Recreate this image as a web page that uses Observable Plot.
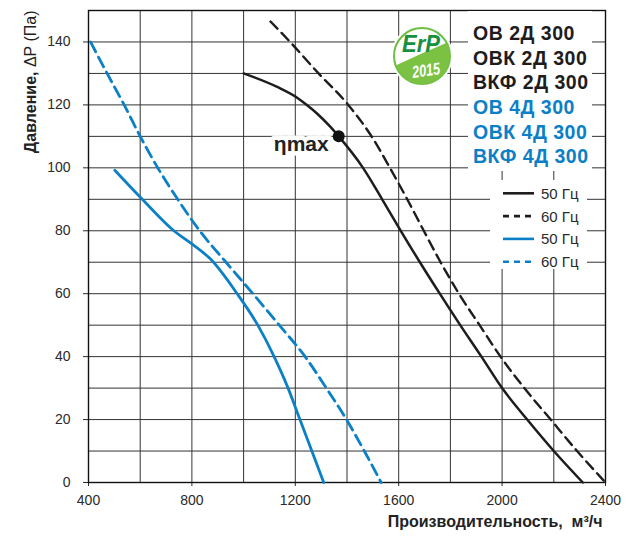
<!DOCTYPE html>
<html>
<head>
<meta charset="utf-8">
<script src="https://cdn.jsdelivr.net/npm/d3@7"></script>
<script src="https://cdn.jsdelivr.net/npm/@observablehq/plot@0.6"></script>
<style>
  html, body { margin: 0; padding: 0; background: #fff; }
  #chart { width: 633px; height: 543px; }
</style>
</head>
<body>
<div id="chart"></div>
<script>
// ---- data ----
const black50X = [1000, 1130, 1207, 1246, 1285, 1336, 1368, 1462, 1536, 1608, 1682, 1759, 1838, 1920, 2000, 2097, 2200, 2312];
const black50Y = [130, 125.7, 122.3, 119.9, 117.2, 113, 110, 100, 90, 80, 70, 60, 50, 40, 30, 20, 10, 0];
const black60X = [1104, 1180, 1290, 1405, 1495, 1566, 1633, 1697, 1762, 1833, 1913, 1994, 2086, 2188, 2290, 2400];
const black60Y = [146.5, 140, 130, 120, 110, 100, 90, 80, 70, 60, 50, 40, 30, 20, 10, 0];
const blue50X = [502, 608, 730, 800, 872, 975, 1055, 1118, 1172, 1218, 1264, 1310];
const blue50Y = [99.2, 90, 80, 75.8, 71, 60, 50, 40, 30, 20, 10, 0];
const blue60X = [408, 472, 538, 600, 668, 745, 830, 932, 1036, 1138, 1238, 1320, 1398, 1467, 1532];
const blue60Y = [140, 130, 120, 110, 100, 90, 80, 70, 60, 50, 40, 30, 20, 10, 0];
const etaMaxX = [1368];
const etaMaxY = [110];

const xTicks = [400, 800, 1200, 1600, 2000, 2400];
const yTicks = [0, 20, 40, 60, 80, 100, 120, 140];
const gridX = [400, 600, 800, 1000, 1200, 1400, 1600, 1800, 2000, 2200, 2400];
const gridY = [0, 10, 20, 30, 40, 50, 60, 70, 80, 90, 100, 110, 120, 130, 140, 150];

const modelLabels = ["ОВ 2Д 300", "ОВК 2Д 300", "ВКФ 2Д 300", "ОВ 4Д 300", "ОВК 4Д 300", "ВКФ 4Д 300"];
const freqLabels = ["50 Гц", "60 Гц", "50 Гц", "60 Гц"];
const xLabel = "Производительность,\u00a0\u00a0м³/ч";
const yLabelBold = "Давление, ";
const yLabelRest = "ΔP (Па)";
const etaLabel = "ηmax";

const BLACK = "#1e1c1d";
const BLUE = "#0b80c6";
const modelColors = [BLACK, BLACK, BLACK, BLUE, BLUE, BLUE];
const freqColors = [BLACK, BLACK, BLUE, BLUE];
const freqDash = [null, "6,5", null, "6,5"];

const toRows = (xs, ys) => xs.map((x, i) => ({x, y: ys[i]}));
const black50 = toRows(black50X, black50Y);
const black60 = toRows(black60X, black60Y);
const blue50 = toRows(blue50X, blue50Y);
const blue60 = toRows(blue60X, blue60Y);
const etaMax = toRows(etaMaxX, etaMaxY);

const FONT = "'Liberation Sans', Arial, Helvetica, sans-serif";

const chart = Plot.plot({
  width: 633,
  height: 543,
  marginLeft: 88,
  marginRight: 28,
  marginTop: 10,
  marginBottom: 61,
  style: {fontFamily: FONT, fontSize: "14px", color: "#2a2a2a", background: "white", overflow: "visible"},
  x: {domain: [400, 2400], ticks: xTicks, tickSize: 4, tickPadding: 9, label: null, tickFormat: d => String(d)},
  y: {domain: [0, 150], ticks: yTicks, tickSize: 5, tickPadding: 13, label: null},
  marks: [
    Plot.ruleX(gridX, {stroke: "#333", strokeWidth: 1}),
    Plot.ruleY(gridY, {stroke: "#333", strokeWidth: 1}),
    Plot.frame({stroke: "#111", strokeWidth: 1.4}),
    Plot.line(blue60, {x: "x", y: "y", stroke: BLUE, strokeWidth: 2.8, strokeDasharray: "11,6", curve: "monotone-x"}),
    Plot.line(blue50, {x: "x", y: "y", stroke: BLUE, strokeWidth: 2.8, curve: "monotone-x"}),
    Plot.line(black60, {x: "x", y: "y", stroke: BLACK, strokeWidth: 2.4, strokeDasharray: "10,6", curve: "monotone-x"}),
    Plot.line(black50, {x: "x", y: "y", stroke: BLACK, strokeWidth: 2.5, curve: "monotone-x"}),
    Plot.text(etaMax, {x: "x", y: "y", text: () => etaLabel, dx: -10, dy: 8, textAnchor: "end", fontWeight: "bold", fontSize: 21, fill: "#222", stroke: "white", strokeWidth: 9, strokeLinejoin: "round", paintOrder: "stroke"}),
    Plot.dot(etaMax, {x: "x", y: "y", r: 6, fill: "#111"}),
    Plot.text([xLabel], {frameAnchor: "bottom-right", dx: -3, dy: 44.5, textAnchor: "end", fontWeight: "bold", fontSize: 16, fill: "#222"}),
    Plot.text([yLabelBold + yLabelRest], {frameAnchor: "top-left", dx: -64, dy: 0, rotate: -90, textAnchor: "end", fontWeight: "bold", fontSize: 16, fill: "#222"})
  ]
});

document.getElementById("chart").appendChild(chart);

// split y label into bold + regular parts
chart.querySelectorAll("text").forEach(t => {
  if (t.textContent === yLabelBold + yLabelRest) {
    t.textContent = "";
    const a = document.createElementNS("http://www.w3.org/2000/svg", "tspan");
    a.textContent = yLabelBold; a.setAttribute("font-weight", "bold");
    const b = document.createElementNS("http://www.w3.org/2000/svg", "tspan");
    b.textContent = yLabelRest; b.setAttribute("font-weight", "normal");
    t.appendChild(a); t.appendChild(b);
  }
});

// ---- legend and logo overlay ----
const svg = d3.select(chart);
const g = svg.append("g").attr("font-family", FONT).attr("text-anchor", "start");

// white boxes behind legend
g.append("rect").attr("x", 468).attr("y", 11).attr("width", 124).attr("height", 160).attr("fill", "white");
g.append("rect").attr("x", 490).attr("y", 180).attr("width", 97).attr("height", 89).attr("fill", "white");

modelLabels.forEach((label, i) => {
  g.append("text")
    .attr("x", 473).attr("y", 40 + i * 24.65)
    .attr("text-anchor", "start")
    .attr("font-size", 19.5).attr("font-weight", "bold")
    .attr("letter-spacing", 0.5)
    .attr("fill", modelColors[i])
    .text(label);
});

freqLabels.forEach((label, i) => {
  const y = 193.3 + i * 22.8;
  const ln = g.append("line")
    .attr("x1", 503).attr("x2", 534).attr("y1", y).attr("y2", y)
    .attr("stroke", freqColors[i]).attr("stroke-width", 2.6);
  if (freqDash[i]) ln.attr("stroke-dasharray", freqDash[i]);
  g.append("text")
    .attr("x", 541).attr("y", y).attr("dy", "0.36em")
    .attr("text-anchor", "start")
    .attr("font-size", 15).attr("fill", "#2a2a2a")
    .text(label);
});

// ErP 2015 logo
const cx = 422, cy = 56, r = 28;
g.append("circle").attr("cx", cx).attr("cy", cy).attr("r", r + 3).attr("fill", "white");
g.append("circle").attr("cx", cx).attr("cy", cy).attr("r", r).attr("fill", "white").attr("stroke", "#6cbf45").attr("stroke-width", 2);
const pt = a => [cx + r * Math.cos(a * Math.PI / 180), cy + r * Math.sin(a * Math.PI / 180)];
const L = pt(160), R = pt(-28);
g.append("path")
  .attr("d", `M${L[0]},${L[1]} Q${cx - 2},${cy - 2} ${R[0]},${R[1]} A${r},${r} 0 1 1 ${L[0]},${L[1]} Z`)
  .attr("fill", "#7cc242");
g.append("text")
  .attr("x", cx - 1).attr("y", 51.5)
  .attr("text-anchor", "middle")
  .attr("font-size", 24).attr("font-weight", "bold").attr("font-style", "italic")
  .attr("fill", "#17903f")
  .attr("textLength", 38).attr("lengthAdjust", "spacingAndGlyphs")
  .text("ErP");
g.append("text")
  .attr("x", cx + 4).attr("y", 76)
  .attr("text-anchor", "middle")
  .attr("font-size", 17).attr("font-weight", "bold").attr("font-style", "italic")
  .attr("fill", "white")
  .attr("textLength", 28).attr("lengthAdjust", "spacingAndGlyphs")
  .attr("transform", `rotate(-8 ${cx + 4} 70)`)
  .text("2015");
</script>
</body>
</html>
